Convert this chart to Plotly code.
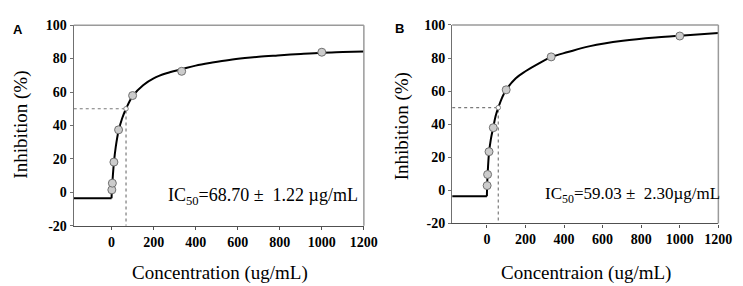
import plotly.graph_objects as go

# ---- data ----
conc = [1.23, 3.7, 11.1, 33.3, 100, 333.3, 1000]
inhib_a = [1.5, 5.5, 18.1, 37.4, 57.9, 72.4, 83.8]
inhib_b = [2.9, 9.6, 23.4, 37.9, 60.8, 80.7, 93.3]

fit_a_x = [0, 1.23, 3.7, 11.1, 20, 33.3, 50, 68.7, 100, 150, 200, 261, 333, 400, 479, 560, 634, 700, 790, 900, 1000, 1100, 1200]
fit_a_y = [-3.5, 1.2, 5.8, 17.8, 27.3, 36.8, 44.2, 50, 57.6, 64.1, 68.2, 71.2, 73.6, 75.8, 77.6, 79.2, 80.3, 81.1, 81.9, 82.8, 83.5, 83.9, 84.3]
fit_b_x = [0, 1.23, 3.7, 11.1, 20, 33.3, 45, 59.03, 80, 100, 150, 200, 270, 336, 420, 535, 705, 874, 1000, 1200]
fit_b_y = [-3.5, 2.9, 9.5, 22.8, 30.5, 38.3, 44.8, 50, 56.4, 60.8, 67.8, 72.0, 76.8, 80.7, 83.6, 87.2, 90.4, 92.4, 93.4, 95.2]

baseline = -3.5
x_min, x_max = -180, 1200
y_min, y_max = -20, 100
ic50_a, ic50_a_err = 68.70, 1.22
ic50_b, ic50_b_err = 59.03, 2.30
x_ticks = [0, 200, 400, 600, 800, 1000, 1200]
y_ticks = [-20, 0, 20, 40, 60, 80, 100]

W, H = 743, 286
def px(x): return x / W
def py(y): return 1 - y / H

fig = go.Figure()

serif = "Liberation Serif, Times New Roman, serif"
dot_col = "#7a7a7a"

panels = [
    dict(xa="x", ya="y", fx=fit_a_x, fy=fit_a_y, pts=inhib_a, ic=ic50_a),
    dict(xa="x2", ya="y2", fx=fit_b_x, fy=fit_b_y, pts=inhib_b, ic=ic50_b),
]
for p in panels:
    fig.add_trace(go.Scatter(x=[x_min, 0], y=[baseline, baseline], mode="lines",
                             line=dict(color="black", width=2), xaxis=p["xa"], yaxis=p["ya"],
                             showlegend=False, hoverinfo="skip"))
    fig.add_trace(go.Scatter(x=[x_min, p["ic"], p["ic"]], y=[50, 50, y_min], mode="lines",
                             line=dict(color=dot_col, width=1.2, dash="dot"),
                             xaxis=p["xa"], yaxis=p["ya"], showlegend=False, hoverinfo="skip"))
    fig.add_trace(go.Scatter(x=p["fx"], y=p["fy"], mode="lines",
                             line=dict(color="black", width=2, shape="spline", smoothing=1.0),
                             xaxis=p["xa"], yaxis=p["ya"], showlegend=False))
    fig.add_trace(go.Scatter(x=conc, y=p["pts"], mode="markers",
                             marker=dict(size=8, color="#cccccc", line=dict(color="#707070", width=1)),
                             xaxis=p["xa"], yaxis=p["ya"], showlegend=False))
    fig.add_trace(go.Scatter(x=[p["ic"]], y=[50], mode="markers",
                             marker=dict(size=4.5, color="white", line=dict(color="#808080", width=1)),
                             xaxis=p["xa"], yaxis=p["ya"], showlegend=False))

tick_font = dict(family=serif, size=14, color="black", weight="bold")
xax = dict(range=[x_min, x_max], tickvals=x_ticks, ticktext=[str(v) for v in x_ticks],
           showgrid=False, zeroline=False,
           showline=True, linecolor="#505050", linewidth=1.2, ticks="outside", ticklen=3,
           tickcolor="#505050", tickfont=tick_font)
yax = dict(range=[y_min, y_max], tickvals=y_ticks, ticktext=[str(v) for v in y_ticks],
           showgrid=False, zeroline=False,
           showline=True, linecolor="#707070", linewidth=1.2, ticks="outside", ticklen=3,
           tickcolor="#707070", tickfont=tick_font)

fig.update_layout(
    width=W, height=H, autosize=False,
    margin=dict(l=0, r=0, t=0, b=0),
    paper_bgcolor="white", plot_bgcolor="white",
    font=dict(family=serif, color="black"),
    xaxis=dict(xax, domain=[px(67), px(362.7)], anchor="y"),
    yaxis=dict(yax, domain=[py(222.5), py(10.7)], anchor="x"),
    xaxis2=dict(xax, domain=[px(452.7), px(724)], anchor="y2"),
    yaxis2=dict(yax, domain=[py(220), py(10.5)], anchor="x2"),
)

for xa, ya in [("x", "y"), ("x2", "y2")]:
    fig.add_shape(type="line", xref=f"{xa} domain", yref=f"{ya} domain", x0=0, x1=1, y0=1, y1=1,
                  line=dict(color="#9a9a9a", width=1.5))
    fig.add_shape(type="line", xref=f"{xa} domain", yref=f"{ya} domain", x0=1, x1=1, y0=0, y1=1,
                  line=dict(color="#9a9a9a", width=1.5))

ann = []
title_font = dict(family=serif, size=19, color="black")
ann.append(dict(text="Inhibition (%)", x=px(13), y=py(116), xref="paper", yref="paper",
                textangle=-90, showarrow=False, font=title_font, xanchor="center", yanchor="middle"))
ann.append(dict(text="Inhibition (%)", x=px(401), y=py(117), xref="paper", yref="paper",
                textangle=-90, showarrow=False, font=title_font, xanchor="center", yanchor="middle"))
ann.append(dict(text="Concentration (ug/mL)", x=px(216), y=py(272), xref="paper", yref="paper",
                showarrow=False, font=title_font, xanchor="center", yanchor="middle"))
ann.append(dict(text="Concentraion (ug/mL)", x=px(589), y=py(272), xref="paper", yref="paper",
                showarrow=False, font=title_font, xanchor="center", yanchor="middle"))
ann.append(dict(text="A", x=px(3), y=py(5), xref="paper", yref="paper", showarrow=False,
                font=dict(family="Liberation Sans, Arial", size=13, color="black", weight="bold"),
                xanchor="left", yanchor="top"))
ann.append(dict(text="B", x=px(392), y=py(4), xref="paper", yref="paper", showarrow=False,
                font=dict(family="Liberation Sans, Arial", size=13, color="black", weight="bold"),
                xanchor="left", yanchor="top"))
ann.append(dict(text=f"IC<sub>50</sub>={ic50_a:.2f} \u00b1\u00a0\u00a0{ic50_a_err:.2f} \u00b5g/mL",
                x=px(359), y=py(192), xref="paper", yref="paper", showarrow=False,
                font=dict(family=serif, size=18, color="black"), xanchor="right", yanchor="middle"))
ann.append(dict(text=f"IC<sub>50</sub>={ic50_b:.2f} \u00b1\u00a0\u00a0{ic50_b_err:.2f}\u00b5g/mL",
                x=px(728), y=py(190), xref="paper", yref="paper", showarrow=False,
                font=dict(family=serif, size=17, color="black"), xanchor="right", yanchor="middle"))
fig.update_layout(annotations=ann)

fig.write_html("out.html")
